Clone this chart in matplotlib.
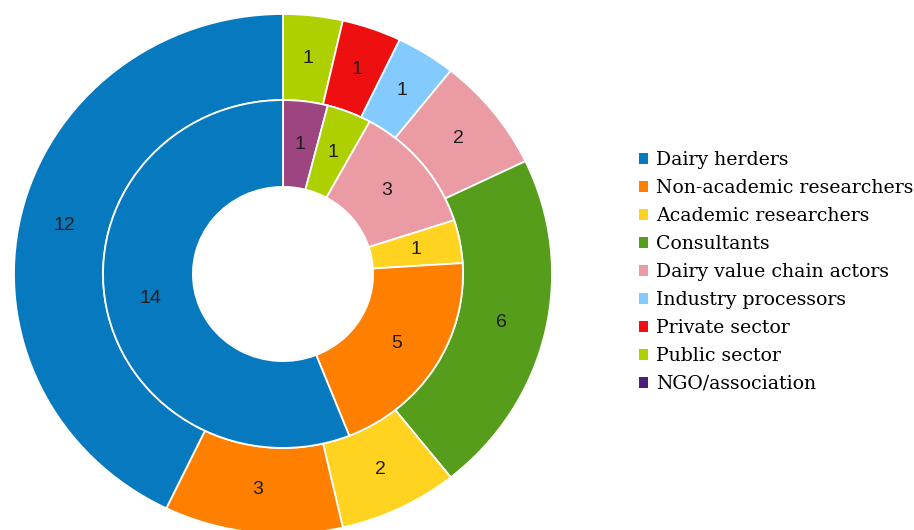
import matplotlib.pyplot as plt
from matplotlib.patches import Patch
import numpy as np

# Legend categories (order as in legend)
categories = ['Dairy herders', 'Non-academic researchers', 'Academic researchers',
              'Consultants', 'Dairy value chain actors', 'Industry processors',
              'Private sector', 'Public sector', 'NGO/association']
cat_colors = ['#0779BF', '#FF8000', '#FFD320', '#579D1C', '#EA9BA4',
              '#83CAFF', '#EE1010', '#AECF00', '#9C4580']
legend_colors = ['#0779BF', '#FF8000', '#FFD320', '#579D1C', '#EA9BA4',
                 '#83CAFF', '#EE1010', '#AECF00', '#4B1F7A']

# Outer ring (clockwise from top)
outer_labels = ['Public sector', 'Private sector', 'Industry processors',
                'Dairy value chain actors', 'Consultants', 'Academic researchers',
                'Non-academic researchers', 'Dairy herders']
outer_values = [1, 1, 1, 2, 6, 2, 3, 12]

# Inner ring (clockwise from top)
inner_labels = ['NGO/association', 'Public sector', 'Dairy value chain actors',
                'Academic researchers', 'Non-academic researchers', 'Dairy herders']
inner_values = [1, 1, 3, 1, 5, 14]

cmap = dict(zip(categories, cat_colors))

W, H = 914, 530
fig = plt.figure(figsize=(W / 100, H / 100), dpi=100)
# ellipse: center (283, 274 from top), rx 269, ry 260
cx, cy, rx, ry = 283, 274, 269, 260
ax = fig.add_axes([(cx - rx) / W, (H - cy - ry) / H, 2 * rx / W, 2 * ry / H])

R_out, R_mid, R_in = 1.0, 0.669, 0.335
wp = dict(edgecolor='white', linewidth=1.3)

w_out, _ = ax.pie(outer_values, radius=R_out, colors=[cmap[c] for c in outer_labels],
                  startangle=90, counterclock=False,
                  wedgeprops=dict(width=R_out - R_mid, **wp))
w_in, _ = ax.pie(inner_values, radius=R_mid, colors=[cmap[c] for c in inner_labels],
                 startangle=90, counterclock=False,
                 wedgeprops=dict(width=R_mid - R_in, **wp))

ax.set_aspect('auto')
ax.set_xlim(-1, 1)
ax.set_ylim(-1, 1)
ax.axis('off')

def put_labels(wedges, values, r):
    for w, v in zip(wedges, values):
        ang = np.deg2rad((w.theta1 + w.theta2) / 2)
        ax.text(r * np.cos(ang), r * np.sin(ang), str(v), ha='center', va='center',
                fontsize=14, family='Liberation Sans', color='#1e1e1e')

put_labels(w_out, outer_values, (R_out + R_mid) / 2)
put_labels(w_in, inner_values, (R_mid + R_in) / 2)

handles = [Patch(facecolor=c, edgecolor='none') for c in legend_colors]
fig.legend(handles, categories, loc='center left', bbox_to_anchor=(639 / W, 0.487),
           frameon=False, prop={'family': 'DejaVu Serif', 'size': 13.6},
           handlelength=0.5, handleheight=0.5, handletextpad=0.4,
           labelspacing=0.53, borderaxespad=0, borderpad=0)

fig.savefig('out.png', dpi=100)
